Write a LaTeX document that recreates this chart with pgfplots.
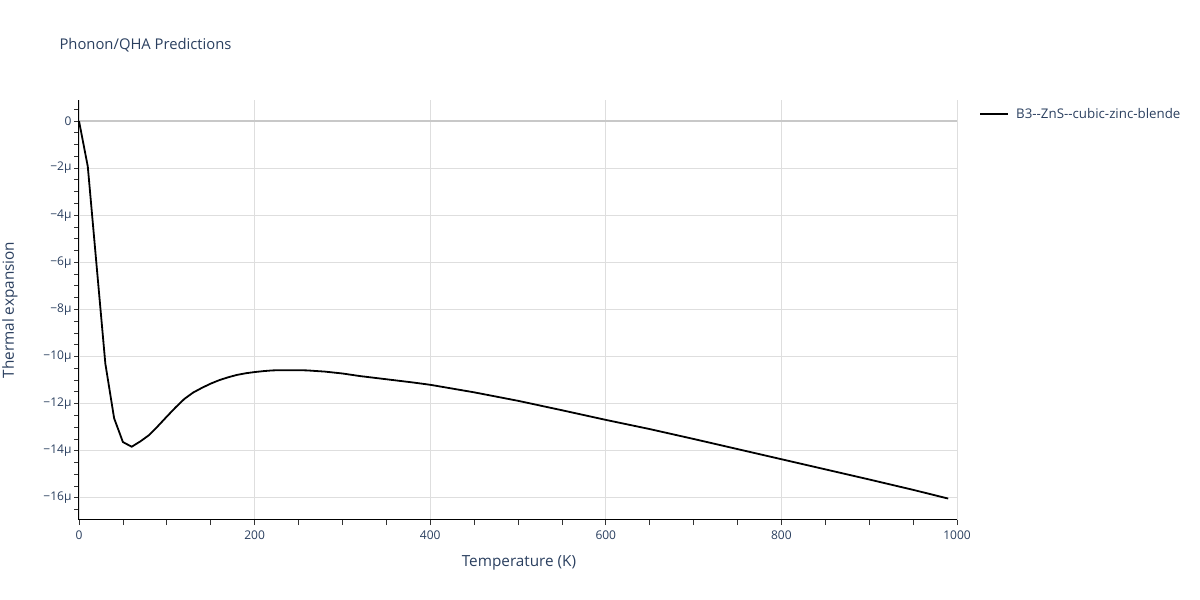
\documentclass[border=0pt]{standalone}
\usepackage{pgfplots}
\pgfplotsset{compat=1.18}
\usepackage{fontspec}
\setmainfont{Open Sans}
\definecolor{txt}{HTML}{2A3F5F}
\definecolor{gridc}{RGB}{222,222,222}
\definecolor{zeroc}{RGB}{200,200,200}
\begin{document}
\begin{tikzpicture}
\path[use as bounding box] (0pt,0pt) rectangle (1200pt,600pt);
\begin{axis}[
  at={(79pt,80pt)}, anchor=south west,
  scale only axis, width=878pt, height=420pt,
  xmin=0, xmax=1000, ymin=-16.94, ymax=0.89,
  axis x line*=bottom, axis y line*=left,
  axis line style={black, line width=1pt, -},
  xtick={0,200,400,600,800,1000},
  xticklabels={0,200,400,600,800,1000},
  minor xtick={50,100,150,250,300,350,450,500,550,650,700,750,850,900,950},
  ytick={-16,-14,-12,-10,-8,-6,-4,-2},
  yticklabels={−16μ,−14μ,−12μ,−10μ,−8μ,−6μ,−4μ,−2μ},
  minor ytick={-16.5,-15.5,-15,-14.5,-13.5,-13,-12.5,-11.5,-11,-10.5,-9.5,-9,-8.5,-7.5,-7,-6.5,-5.5,-5,-4.5,-3.5,-3,-2.5,-1.5,-1,-0.5,0.5},
  extra y ticks={0},
  extra y tick labels={0},
  extra y tick style={grid style={color=zeroc, line width=1.6pt}},
  tick align=outside, tick pos=left,
  major tick length=5pt, minor tick length=5pt,
  tick style={black!80, line width=0.8pt},
  grid=major,
  grid style={color=gridc, line width=0.9pt},
  ticklabel style={font=\fontsize{12}{14}\selectfont, text=txt},
  xticklabel style={yshift=-2pt},
  yticklabel style={xshift=1pt},
  legend style={at={(rel axis cs:1,1)}, anchor=north west, xshift=22pt, yshift=-6pt,
    draw=none, fill=none, font=\fontsize{13.3}{15}\selectfont, text=txt, inner sep=0pt,
    cells={anchor=west}},
  legend image code/.code={\draw[#1, line width=2pt] (0pt,0pt) -- (28pt,0pt);},
  clip=false,
]
\addplot[black, line width=1.8pt, line join=round] table {
T v
0 0
10 -1.93
20 -6.12
30 -10.3
40 -12.62
50 -13.63
60 -13.83
70 -13.6
80 -13.33
90 -12.95
100 -12.55
110 -12.16
120 -11.8
130 -11.53
140 -11.33
150 -11.15
160 -11.0
170 -10.88
180 -10.78
190 -10.71
200 -10.66
210 -10.62
220 -10.59
230 -10.58
240 -10.58
250 -10.58
260 -10.59
280 -10.64
300 -10.72
320 -10.83
340 -10.92
360 -11.01
380 -11.1
400 -11.2
450 -11.52
500 -11.88
550 -12.28
600 -12.69
650 -13.08
700 -13.5
750 -13.93
800 -14.36
850 -14.79
900 -15.22
950 -15.66
990 -16.03
};
\addlegendentry{\hspace{5pt}B3-{}-ZnS-{}-cubic-zinc-blende}
\end{axis}
\node[anchor=west, text=txt, font=\fontsize{14.8}{17}\selectfont] at (56pt,555pt) {Phonon/QHA Predictions};
\node[text=txt, font=\fontsize{15.3}{17}\selectfont] at (519pt,37pt) {Temperature (K)};
\node[rotate=90, text=txt, font=\fontsize{15.3}{17}\selectfont] at (10pt,290pt) {Thermal expansion};
\end{tikzpicture}
\end{document}
